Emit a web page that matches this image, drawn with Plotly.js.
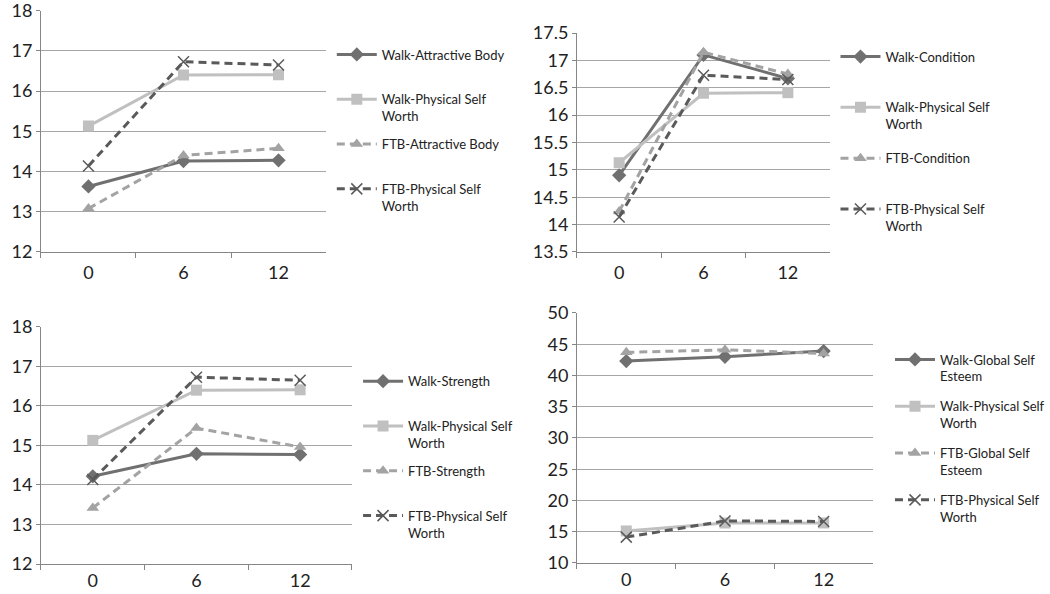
<!DOCTYPE html>
<html>
<head>
<meta charset="utf-8">
<script src="https://cdn.plot.ly/plotly-3.0.1.min.js"></script>
<style>
  body { margin: 0; background: #fff; }
  #graph { width: 1050px; height: 594px; }
</style>
</head>
<body>
<div id="graph"></div>
<script>
// months
var months = ['0', '6', '12'];

// shared series
var walkPSW = [15.13, 16.40, 16.41];
var ftbPSW = [14.14, 16.73, 16.65];

// panel series
var walkAttractive = [13.63, 14.26, 14.28];
var ftbAttractive = [13.08, 14.40, 14.58];
var walkCondition = [14.90, 17.10, 16.67];
var ftbCondition = [14.24, 17.15, 16.75];
var walkStrength = [14.22, 14.79, 14.77];
var ftbStrength = [13.42, 15.44, 14.96];
var walkGlobal = [42.3, 43.0, 43.9];
var ftbGlobal = [43.7, 44.1, 43.5];

var DARK = '#707070', LIGHT = '#c0c0c0', MID = '#a3a3a3', DARKER = '#5a5a5a';

function walkMain(name, y, n) {
	return {x: months, y: y, name: name, type: 'scatter', mode: 'lines+markers',
		xaxis: 'x' + n, yaxis: 'y' + n, legend: n == 1 ? 'legend' : 'legend' + n, legendgroup: 'a' + n,
		line: {color: DARK, width: 3}, marker: {symbol: 'diamond', size: 11, color: DARK}};
}
function walkPhys(y, n) {
	return {x: months, y: y, name: 'Walk-Physical Self<br>Worth', type: 'scatter', mode: 'lines+markers',
		xaxis: 'x' + n, yaxis: 'y' + n, legend: n == 1 ? 'legend' : 'legend' + n, legendgroup: 'b' + n,
		line: {color: LIGHT, width: 3}, marker: {symbol: 'square', size: 11, color: LIGHT}};
}
function ftbMain(name, y, n) {
	return {x: months, y: y, name: name, type: 'scatter', mode: 'lines+markers',
		xaxis: 'x' + n, yaxis: 'y' + n, legend: n == 1 ? 'legend' : 'legend' + n, legendgroup: 'c' + n,
		line: {color: MID, width: 3, dash: '8px,5px'}, marker: {symbol: 'triangle-up', size: 11, color: MID}};
}
function ftbPhys(y, n) {
	return {x: months, y: y, name: 'FTB-Physical Self<br>Worth', type: 'scatter', mode: 'lines+markers',
		xaxis: 'x' + n, yaxis: 'y' + n, legend: n == 1 ? 'legend' : 'legend' + n, legendgroup: 'd' + n,
		line: {color: DARKER, width: 3, dash: '8px,5px'},
		marker: {symbol: 'x-thin', size: 11, color: DARKER, line: {width: 1.5, color: DARKER}}};
}

var data = [
	walkMain('Walk-Attractive Body<br> ', walkAttractive, 1), walkPhys(walkPSW, 1),
	ftbMain('FTB-Attractive Body<br> ', ftbAttractive, 1), ftbPhys(ftbPSW, 1),
	walkMain('Walk-Condition<br> ', walkCondition, 2), walkPhys(walkPSW, 2),
	ftbMain('FTB-Condition<br> ', ftbCondition, 2), ftbPhys(ftbPSW, 2),
	walkMain('Walk-Strength<br> ', walkStrength, 3), walkPhys(walkPSW, 3),
	ftbMain('FTB-Strength<br> ', ftbStrength, 3), ftbPhys(ftbPSW, 3),
	walkMain('Walk-Global Self<br>Esteem', walkGlobal, 4), walkPhys(walkPSW, 4),
	ftbMain('FTB-Global Self<br>Esteem', ftbGlobal, 4), ftbPhys(ftbPSW, 4)
];

function xax(dom, anchor, standoff) {
	return {domain: dom, anchor: anchor, type: 'category', tickson: 'boundaries',
		ticks: 'outside', ticklen: 5, tickcolor: '#868686', showline: true, linecolor: '#868686',
		showgrid: false, ticklabelstandoff: standoff, tickfont: {family: 'Lato', size: 18, color: '#222'}, range: [-0.5, 2.5]};
}
function yax(dom, anchor, range, dtick) {
	return {domain: dom, anchor: anchor, range: range, dtick: dtick, tick0: 0, ticks: 'outside', ticklen: 4,
		tickcolor: '#868686', showline: true, linecolor: '#868686', gridcolor: '#a6a6a6',
		zeroline: false, ticklabeloverflow: 'allow', tickfont: {family: 'Lato', size: 18, color: '#222'}};
}
function leg(x, y, gap) {
	return {x: x, y: y, xanchor: 'left', yanchor: 'top', valign: 'top', tracegroupgap: gap, itemwidth: 40,
		bgcolor: 'rgba(0,0,0,0)', font: {family: 'Lato', size: 13, color: '#222'}};
}

var layout = {
	width: 1050, height: 594,
	margin: {l: 0, r: 0, t: 0, b: 0},
	paper_bgcolor: '#fff', plot_bgcolor: '#fff',
	xaxis: xax([0.039, 0.3105], 'y', 4),
	yaxis: yax([0.5758, 0.982], 'x', [12, 18.0001], 1),
	xaxis2: xax([0.5495, 0.7905], 'y2', 4),
	yaxis2: yax([0.5758, 0.9444], 'x2', [13.5, 17.5], 0.5),
	xaxis3: xax([0.039, 0.3352], 'y3', 0),
	yaxis3: yax([0.0505, 0.4495], 'x3', [12, 18], 1),
	xaxis4: xax([0.5495, 0.8314], 'y4', 0),
	yaxis4: yax([0.0522, 0.4731], 'x4', [10, 50], 5),
	legend: leg(0.316, 0.9335, 8),
	legend2: leg(0.7957, 0.93, 14),
	legend3: leg(0.341, 0.3834, 8),
	legend4: leg(0.848, 0.42, 10),
	showlegend: true
};

Plotly.newPlot('graph', data, layout, {displayModeBar: false, staticPlot: true});
</script>
</body>
</html>
